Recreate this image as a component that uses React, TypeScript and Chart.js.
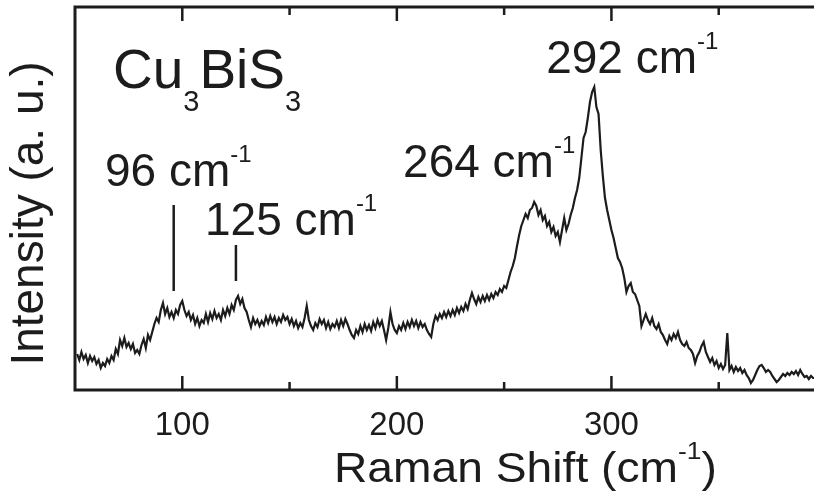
import React, { useEffect, useRef } from "react";
import { Chart, registerables } from "chart.js";

Chart.register(...registerables);

// Raman spectrum of Cu3BiS3, sampled every 1 cm^-1 starting at 51 cm^-1
const shiftStart = 51;
const intensity = [
  36, 30, 38, 31, 35, 27, 34, 29, 33, 26,
  30, 22, 27, 24, 31, 27, 34, 30, 41, 36,
  50, 44, 52, 43, 47, 41, 46, 37, 40, 36,
  45, 51, 42, 55, 50, 58, 66, 72, 68, 80,
  87, 76, 82, 73, 78, 72, 80, 76, 85, 89,
  80, 74, 78, 70, 75, 66, 72, 64, 70, 67,
  76, 68, 77, 71, 79, 72, 76, 70, 80, 74,
  82, 76, 85, 80, 90, 94, 86, 91, 82, 78,
  70, 63, 72, 66, 70, 64, 69, 65, 73, 67,
  74, 68, 73, 66, 72, 68, 75, 70, 73, 66,
  71, 64, 69, 62, 67, 63, 72, 84, 70, 64,
  60, 67, 63, 71, 66, 70, 62, 68, 61, 66,
  63, 69, 62, 70, 64, 71, 66, 60, 55, 52,
  60, 56, 64, 58, 66, 60, 65, 59, 68, 62,
  70, 64, 69, 60, 50, 62, 78, 66, 60, 57,
  64, 60, 67, 61, 68, 63, 70, 64, 69, 62,
  68, 63, 66, 60, 56, 53, 66, 74, 70, 76,
  72, 78, 73, 79, 74, 80, 75, 82, 77, 83,
  79, 86, 81, 90, 97, 91, 86, 93, 88, 94,
  89, 95, 90, 96, 92, 98, 95, 101, 98, 104,
  102, 110, 118, 124, 132, 144, 155, 164, 170, 176,
  172, 180, 182, 188, 184, 175, 180, 170, 174, 164,
  168, 158, 163, 154, 158, 148, 160, 172, 160, 166,
  175, 182, 192, 200, 212, 232, 252, 258, 272, 288,
  298, 303, 283, 276, 240, 214, 192, 180, 170, 160,
  152, 142, 132, 128, 122, 112, 98, 104, 107, 98,
  96, 90, 84, 64, 70, 76, 70, 66, 72, 64,
  61, 66, 58, 55, 50, 46, 54, 50, 56, 52,
  58, 50, 46, 44, 48, 42, 40, 36, 27, 34,
  38, 44, 48, 38, 33, 28, 32, 25, 29, 22,
  26, 21, 25, 57, 20, 24, 18, 23, 19, 22,
  17, 20, 15, 12, 7, 10, 15, 20, 24, 25,
  22, 18, 20, 18, 14, 11, 8, 10, 13, 16,
  14, 17, 15, 18, 16, 19, 15, 20, 16, 13,
  14, 11, 14, 12, 12,
];

// x-axis ticks
const majorTicks = [100, 200, 300];
const minorTicks = [150, 250, 350];

// peak markers drawn as short vertical bars
const markerShifts = [96, 125];
const markerTops = [185, 145];
const markerBottoms = [99, 109];

// peak labels: text, anchor shift (left edge) and baseline intensity
const peakLabelTexts = ["96 cm", "125 cm", "264 cm", "292 cm"];
const peakLabelShifts = [64.0, 110.6, 202.9, 269.6];
const peakLabelLevels = [204, 155, 213, 317];

const FONT = '"Liberation Sans", Arial, Helvetica, sans-serif';
const INK = "#1c1c1c";

type Run = { text: string; size: number; dy?: number };

function drawRuns(ctx: CanvasRenderingContext2D, x: number, y: number, runs: Run[]) {
  let cx = x;
  for (const r of runs) {
    ctx.font = `${r.size}px ${FONT}`;
    ctx.fillText(r.text, cx, y + (r.dy || 0));
    cx += ctx.measureText(r.text).width;
  }
}

const framePlugin = {
  id: "frameAndText",
  afterDraw(chart: any) {
    const { ctx, chartArea } = chart;
    const xs = chart.scales.x;
    const ys = chart.scales.y;
    const { left, right, top, bottom } = chartArea;
    ctx.save();
    ctx.strokeStyle = INK;
    ctx.fillStyle = INK;

    // frame (left, top, bottom)
    ctx.lineWidth = 3;
    ctx.lineCap = "square";
    ctx.beginPath();
    ctx.moveTo(right, top);
    ctx.lineTo(left, top);
    ctx.lineTo(left, bottom);
    ctx.lineTo(right, bottom);
    ctx.stroke();

    // inward ticks on bottom and top
    ctx.lineWidth = 2.5;
    ctx.lineCap = "butt";
    const tick = (v: number, len: number) => {
      const px = xs.getPixelForValue(v);
      ctx.beginPath();
      ctx.moveTo(px, bottom);
      ctx.lineTo(px, bottom - len);
      ctx.moveTo(px, top);
      ctx.lineTo(px, top + len);
      ctx.stroke();
    };
    majorTicks.forEach((v) => tick(v, 14));
    minorTicks.forEach((v) => tick(v, 8));

    // tick labels
    ctx.font = `33px ${FONT}`;
    ctx.textAlign = "center";
    ctx.textBaseline = "alphabetic";
    majorTicks.forEach((v) => {
      ctx.fillText(String(v), xs.getPixelForValue(v), bottom + 45);
    });

    // peak marker bars
    ctx.lineWidth = 2.5;
    markerShifts.forEach((v, i) => {
      const px = xs.getPixelForValue(v);
      ctx.beginPath();
      ctx.moveTo(px, ys.getPixelForValue(markerTops[i]));
      ctx.lineTo(px, ys.getPixelForValue(markerBottoms[i]));
      ctx.stroke();
    });

    // peak labels
    ctx.textAlign = "left";
    peakLabelTexts.forEach((t, i) => {
      drawRuns(ctx, xs.getPixelForValue(peakLabelShifts[i]), ys.getPixelForValue(peakLabelLevels[i]), [
        { text: t, size: 46 },
        { text: "-1", size: 24, dy: -24 },
      ]);
    });

    // compound name
    drawRuns(ctx, xs.getPixelForValue(67.7), ys.getPixelForValue(302), [
      { text: "Cu", size: 55 },
      { text: "3", size: 29, dy: 23 },
      { text: "BiS", size: 55 },
      { text: "3", size: 29, dy: 23 },
    ]);

    // x-axis title
    ctx.save();
    ctx.translate(334, bottom + 92);
    ctx.scale(1.1, 1);
    drawRuns(ctx, 0, 0, [
      { text: "Raman Shift (cm", size: 42 },
      { text: "-1", size: 24, dy: -23 },
      { text: ")", size: 42 },
    ]);
    ctx.restore();

    // y-axis title
    ctx.translate(43, (top + bottom) / 2 + 15);
    ctx.rotate(-Math.PI / 2);
    ctx.textAlign = "center";
    ctx.font = `46px ${FONT}`;
    ctx.fillText("Intensity (a. u.)", 0, 0);
    ctx.restore();
  },
};

export default function App() {
  const canvasRef = useRef<HTMLCanvasElement | null>(null);

  useEffect(() => {
    const canvas = canvasRef.current;
    if (!canvas) return;
    const points = intensity.map((v, i) => ({ x: shiftStart + i, y: v }));
    const chart = new Chart(canvas, {
      type: "line",
      data: {
        datasets: [
          {
            data: points,
            borderColor: INK,
            borderWidth: 2.2,
            pointRadius: 0,
            tension: 0,
            fill: false,
          },
        ],
      },
      options: {
        responsive: false,
        maintainAspectRatio: false,
        animation: false,
        layout: { padding: { left: 75, top: 7, right: 14, bottom: 111 } },
        plugins: { legend: { display: false }, tooltip: { enabled: false } },
        scales: {
          x: { type: "linear", min: 50, max: 400, display: false },
          y: { type: "linear", min: 0, max: 383, display: false },
        },
      },
      plugins: [framePlugin],
    });
    return () => chart.destroy();
  }, []);

  return (
    <div
      style={{
        position: "fixed",
        left: 0,
        top: 0,
        width: 814,
        height: 501,
        overflow: "hidden",
        background: "#fff",
      }}
    >
      <canvas ref={canvasRef} width={840} height={501} style={{ display: "block" }} />
    </div>
  );
}
